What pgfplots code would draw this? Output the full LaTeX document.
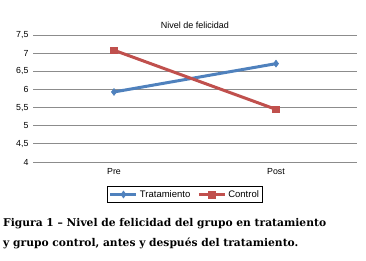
\documentclass[border=0pt]{standalone}
\usepackage{pgfplots}
\pgfplotsset{compat=1.18}
\usepackage{fontspec}
\setmainfont{Liberation Sans}
\newfontfamily\capfont{DejaVu Serif}
\definecolor{tblue}{HTML}{4F81BD}
\definecolor{tred}{HTML}{C0504D}
\definecolor{gridc}{HTML}{8C8C8C}
\begin{document}
\begin{tikzpicture}[x=1pt,y=1pt]
\useasboundingbox (0,0) rectangle (366,261);
\begin{axis}[
  at={(33pt,99pt)}, anchor=south west,
  scale only axis, width=324pt, height=127pt,
  xmin=0, xmax=2, ymin=4, ymax=7.5,
  xtick={0.5,1.5}, xticklabels={Pre,Post},
  ytick={4,4.5,5,5.5,6,6.5,7,7.5},
  /pgf/number format/use comma,
  /pgf/number format/assume math mode=true,
  ymajorgrids, major grid style={gridc, line width=0.8pt},
  axis line style={draw=none},
  tick style={draw=none},
  tick label style={font=\fontsize{8.8}{10}\selectfont},
  yticklabel style={xshift=-1pt},
  xticklabel style={yshift=-3pt},
  title={Nivel de felicidad},
  title style={font=\fontsize{9}{10}\selectfont, yshift=-3pt},
  legend style={at={(0.469,-0.256)}, anchor=center, legend columns=2,
    font=\fontsize{9.5}{11}\selectfont, draw=black, line width=0.8pt,
    inner sep=1.5pt, /tikz/every even column/.append style={column sep=5pt}},
  legend image code/.code={\draw[#1, line width=3pt] (0pt,0pt) -- (26pt,0pt); \draw[#1, mark repeat=1] plot coordinates {(13pt,0pt)};},
  clip=false,
]
\addplot[tblue, line width=3pt, mark=diamond*, mark size=3.5pt, mark options={line width=0.5pt}] coordinates {(0.5,5.93) (1.5,6.71)};
\addlegendentry{Tratamiento}
\addplot[tred, line width=3pt, mark=square*, mark size=3.3pt, mark options={line width=0.5pt}] coordinates {(0.5,7.08) (1.5,5.45)};
\addlegendentry{Control}
\end{axis}
\node[anchor=north west, align=left, inner sep=0pt, font=\capfont\bfseries\fontsize{10.7}{20}\selectfont] at (3,43) {Figura 1 – Nivel de felicidad del grupo en tratamiento\\y grupo control, antes y después del tratamiento.};
\end{tikzpicture}
\end{document}
